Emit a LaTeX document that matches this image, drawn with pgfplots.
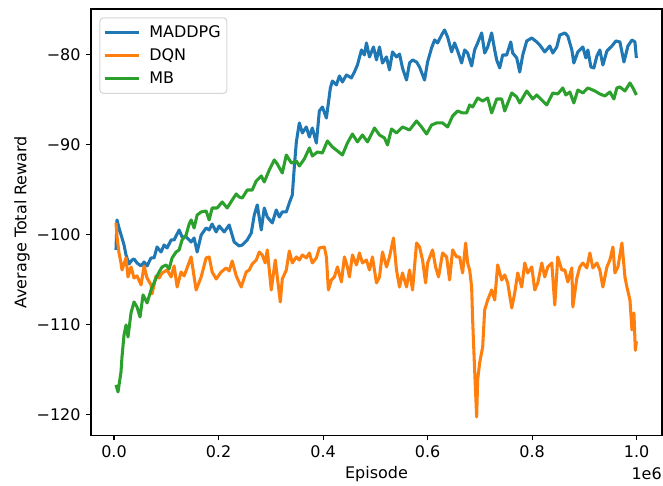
\documentclass[border=0pt]{standalone}
\usepackage{fontspec}
\setmainfont{DejaVu Sans}
\usepackage{pgfplots}
\pgfplotsset{compat=1.18}
\definecolor{mplblue}{HTML}{1F77B4}
\definecolor{mplorange}{HTML}{FF7F0E}
\definecolor{mplgreen}{HTML}{2CA02C}
\definecolor{legframe}{HTML}{D6D6D6}

\begin{document}
\fontsize{11.5}{13.8}\selectfont
\begin{tikzpicture}
\begin{axis}[
  name=main,
  scale only axis,
  width=411.12pt, height=307.08pt,
  xmin=-0.044, xmax=1.0485, ymin=-122.36, ymax=-74.97,
  xtick={0,0.2,0.4,0.6,0.8,1.0},
  xticklabels={0.0,0.2,0.4,0.6,0.8,1.0},
  ytick={-120,-110,-100,-90,-80},
  yticklabels={−120,−110,−100,−90,−80},
  tick pos=left, tick align=outside,
  major tick length=3.5pt,
  tick style={black, line width=0.8pt},
  axis line style={line width=0.8pt},
  ticklabel style={font=\fontsize{11.5}{13.8}\selectfont},
  xlabel={Episode}, ylabel={Average Total Reward},
  xlabel style={at={(axis description cs:0.5,0)}, anchor=center, yshift=-27.5pt, font=\fontsize{11.5}{13.8}\selectfont},
  ylabel style={at={([xshift=-49.7pt]axis description cs:0,0.5)}, anchor=center, font=\fontsize{11.5}{13.8}\selectfont},
  legend cell align=left,
  legend image code/.code={\draw[#1, line width=2pt] (0pt,0pt) -- (24.5pt,0pt);},
  legend style={at={(axis description cs:0,1)}, anchor=north west, xshift=6pt, yshift=-6pt,
    draw=legframe, line width=0.8pt, rounded corners=2.5pt, fill=white,
    font=\fontsize{11.5}{13.8}\selectfont, inner xsep=2.5pt, inner ysep=3.4pt, row sep=2.3pt,
    nodes={inner sep=2pt, text height=8.6pt, text depth=1.7pt},
    /tikz/every odd column/.append style={column sep=4.6pt}},
  every axis plot/.append style={line width=2.2pt, line join=round, mark=none},
]
% MADDPG
\addplot[color=mplblue] coordinates {
(0.0038,-101.74) (0.0058,-98.41) (0.0096,-99.30) (0.0153,-100.41) (0.0192,-101.19)
(0.0230,-102.30) (0.0288,-103.30) (0.0345,-102.86) (0.0383,-102.74) (0.0441,-103.19)
(0.0518,-103.52) (0.0575,-103.08) (0.0633,-103.52) (0.0709,-102.63) (0.0767,-102.63)
(0.0824,-101.41) (0.0901,-101.97) (0.0958,-101.19) (0.1016,-101.52) (0.1093,-100.63)
(0.1150,-100.63) (0.1246,-99.52) (0.1303,-100.30) (0.1380,-100.30) (0.1438,-100.63)
(0.1476,-100.86) (0.1533,-100.41) (0.1591,-101.97) (0.1668,-100.08) (0.1763,-99.30)
(0.1821,-99.52) (0.1878,-98.86) (0.1955,-99.74) (0.2013,-99.08) (0.2109,-99.74)
(0.2204,-98.97) (0.2300,-100.86) (0.2396,-101.30) (0.2454,-101.19) (0.2549,-100.63)
(0.2626,-99.86) (0.2684,-97.86) (0.2741,-96.74) (0.2818,-99.52) (0.2875,-97.08)
(0.2933,-98.08) (0.3029,-98.74) (0.3105,-97.30) (0.3163,-98.08) (0.3220,-97.52)
(0.3297,-97.52) (0.3354,-96.52) (0.3412,-95.63) (0.3450,-92.52) (0.3489,-89.74)
(0.3546,-87.63) (0.3604,-88.74) (0.3680,-88.08) (0.3738,-89.19) (0.3795,-88.19)
(0.3872,-89.86) (0.3929,-86.30) (0.3987,-85.86) (0.4064,-87.08) (0.4140,-83.74)
(0.4179,-82.97) (0.4255,-83.41) (0.4313,-82.41) (0.4370,-83.08) (0.4447,-82.30)
(0.4543,-82.63) (0.4600,-81.97) (0.4658,-81.19) (0.4735,-79.52) (0.4792,-80.08)
(0.4830,-78.74) (0.4888,-80.30) (0.4965,-79.19) (0.5022,-80.63) (0.5080,-79.19)
(0.5137,-80.97) (0.5214,-80.30) (0.5271,-81.74) (0.5329,-79.74) (0.5405,-80.30)
(0.5463,-79.97) (0.5520,-81.52) (0.5597,-82.86) (0.5655,-80.97) (0.5712,-80.63)
(0.5789,-80.86) (0.5846,-81.41) (0.5942,-82.86) (0.6000,-80.86) (0.6076,-79.30)
(0.6134,-78.41) (0.6191,-78.74) (0.6268,-77.86) (0.6325,-77.30) (0.6383,-78.08)
(0.6460,-79.74) (0.6517,-78.74) (0.6575,-79.63) (0.6651,-80.97) (0.6709,-79.52)
(0.6766,-79.86) (0.6843,-81.30) (0.6900,-79.52) (0.6958,-78.74) (0.7035,-77.63)
(0.7092,-79.86) (0.7150,-79.19) (0.7226,-77.63) (0.7284,-79.52) (0.7322,-80.63)
(0.7380,-81.52) (0.7437,-80.08) (0.7514,-80.08) (0.7591,-78.63) (0.7629,-79.86)
(0.7706,-80.41) (0.7763,-81.97) (0.7821,-80.08) (0.7897,-78.52) (0.7993,-78.19)
(0.8089,-78.63) (0.8146,-78.97) (0.8242,-79.74) (0.8338,-79.08) (0.8396,-79.86)
(0.8472,-79.19) (0.8530,-77.86) (0.8626,-77.63) (0.8683,-77.97) (0.8760,-79.52)
(0.8798,-80.97) (0.8875,-79.74) (0.8971,-79.19) (0.9028,-80.41) (0.9067,-79.52)
(0.9124,-81.41) (0.9182,-81.52) (0.9239,-80.19) (0.9296,-79.52) (0.9354,-81.19)
(0.9431,-79.63) (0.9527,-79.08) (0.9603,-78.52) (0.9680,-78.63) (0.9757,-80.86)
(0.9833,-79.08) (0.9910,-78.41) (0.9967,-78.63) (0.9995,-80.41)
};
\addlegendentry{MADDPG}
% DQN
\addplot[color=mplorange] coordinates {
(0.0038,-98.74) (0.0058,-100.30) (0.0096,-102.08) (0.0134,-103.19) (0.0153,-103.97)
(0.0230,-102.63) (0.0268,-104.74) (0.0326,-103.63) (0.0383,-104.86) (0.0441,-104.63)
(0.0518,-105.63) (0.0575,-103.52) (0.0633,-104.86) (0.0709,-105.63) (0.0728,-106.63)
(0.0805,-104.63) (0.0863,-104.86) (0.0920,-104.30) (0.1016,-103.97) (0.1093,-104.74)
(0.1150,-103.52) (0.1208,-105.86) (0.1284,-104.19) (0.1342,-104.63) (0.1399,-103.74)
(0.1476,-102.52) (0.1533,-104.74) (0.1572,-106.19) (0.1668,-104.74) (0.1763,-102.63)
(0.1821,-102.52) (0.1878,-104.19) (0.1955,-104.97) (0.2051,-104.19) (0.2147,-103.74)
(0.2204,-104.08) (0.2262,-102.97) (0.2339,-104.63) (0.2434,-105.86) (0.2530,-104.19)
(0.2588,-103.97) (0.2645,-103.30) (0.2722,-102.86) (0.2779,-101.97) (0.2837,-102.30)
(0.2894,-103.19) (0.2933,-101.74) (0.3009,-106.19) (0.3086,-102.86) (0.3124,-104.74)
(0.3182,-107.52) (0.3220,-104.97) (0.3297,-103.97) (0.3354,-101.86) (0.3412,-103.19)
(0.3489,-102.52) (0.3546,-102.86) (0.3604,-102.30) (0.3680,-102.63) (0.3738,-102.08)
(0.3795,-103.19) (0.3872,-102.63) (0.3929,-101.52) (0.4025,-101.41) (0.4064,-102.52)
(0.4102,-106.19) (0.4160,-105.08) (0.4217,-104.74) (0.4275,-103.63) (0.4351,-105.30)
(0.4409,-102.52) (0.4466,-103.63) (0.4505,-104.74) (0.4562,-102.30) (0.4639,-103.41)
(0.4696,-102.08) (0.4754,-103.19) (0.4830,-102.86) (0.4888,-103.97) (0.4945,-102.52)
(0.5022,-105.41) (0.5080,-104.74) (0.5137,-101.97) (0.5214,-103.63) (0.5271,-102.52)
(0.5348,-100.41) (0.5405,-103.97) (0.5463,-105.86) (0.5520,-104.30) (0.5597,-105.86)
(0.5655,-103.97) (0.5712,-106.19) (0.5789,-100.97) (0.5846,-101.41) (0.5904,-102.86)
(0.5962,-105.41) (0.6000,-103.19) (0.6095,-101.74) (0.6153,-103.63) (0.6210,-104.74)
(0.6287,-102.08) (0.6364,-102.52) (0.6421,-105.08) (0.6479,-101.74) (0.6556,-102.52)
(0.6613,-102.52) (0.6670,-104.30) (0.6728,-100.97) (0.6766,-103.19) (0.6805,-103.97)
(0.6843,-105.86) (0.6862,-109.52) (0.6900,-115.08) (0.6939,-120.30) (0.6958,-116.19)
(0.6996,-114.30) (0.7054,-112.52) (0.7092,-108.41) (0.7150,-107.30) (0.7226,-106.19)
(0.7284,-107.30) (0.7341,-103.41) (0.7418,-105.08) (0.7476,-104.52) (0.7533,-105.41)
(0.7610,-108.19) (0.7667,-106.52) (0.7725,-104.30) (0.7801,-105.86) (0.7859,-103.19)
(0.7916,-104.30) (0.7993,-103.63) (0.8051,-106.19) (0.8108,-105.41) (0.8185,-103.19)
(0.8242,-104.74) (0.8300,-103.63) (0.8376,-103.19) (0.8434,-107.86) (0.8491,-102.52)
(0.8568,-103.97) (0.8626,-103.97) (0.8683,-105.30) (0.8760,-103.74) (0.8779,-108.08)
(0.8856,-104.86) (0.8913,-103.63) (0.8971,-103.19) (0.9047,-103.74) (0.9105,-102.08)
(0.9162,-103.74) (0.9239,-103.19) (0.9296,-103.97) (0.9354,-105.86) (0.9431,-103.63)
(0.9488,-102.86) (0.9546,-101.41) (0.9584,-104.30) (0.9642,-103.63) (0.9718,-100.97)
(0.9776,-104.74) (0.9814,-105.86) (0.9872,-107.30) (0.9910,-110.63) (0.9948,-108.74)
(0.9975,-112.90) (0.9995,-111.90)
};
\addlegendentry{DQN}
% MB
\addplot[color=mplgreen] coordinates {
(0.0038,-116.74) (0.0077,-117.52) (0.0134,-115.30) (0.0153,-113.63) (0.0192,-111.19)
(0.0230,-110.08) (0.0268,-111.41) (0.0326,-108.74) (0.0383,-107.52) (0.0441,-108.08)
(0.0498,-109.19) (0.0556,-106.74) (0.0633,-107.63) (0.0709,-106.19) (0.0805,-104.86)
(0.0863,-104.19) (0.0920,-103.63) (0.0997,-103.41) (0.1054,-103.86) (0.1112,-102.63)
(0.1188,-101.97) (0.1246,-101.74) (0.1303,-100.63) (0.1380,-100.08) (0.1438,-98.86)
(0.1476,-98.41) (0.1533,-99.30) (0.1591,-97.86) (0.1668,-97.52) (0.1763,-97.41)
(0.1821,-98.41) (0.1878,-97.08) (0.1974,-97.08) (0.2070,-96.41) (0.2166,-97.08)
(0.2262,-96.19) (0.2339,-95.52) (0.2396,-95.86) (0.2454,-95.97) (0.2549,-95.08)
(0.2645,-95.08) (0.2722,-94.08) (0.2818,-93.52) (0.2875,-94.19) (0.2971,-92.86)
(0.3067,-91.74) (0.3124,-92.19) (0.3220,-93.19) (0.3297,-91.19) (0.3393,-92.08)
(0.3489,-91.86) (0.3546,-92.41) (0.3642,-91.63) (0.3738,-90.41) (0.3795,-91.30)
(0.3891,-90.86) (0.3987,-90.97) (0.4083,-89.63) (0.4179,-90.30) (0.4275,-90.74)
(0.4370,-91.19) (0.4466,-89.86) (0.4562,-88.86) (0.4658,-89.74) (0.4754,-88.97)
(0.4850,-89.74) (0.4984,-88.19) (0.5080,-88.97) (0.5175,-89.30) (0.5233,-90.08)
(0.5310,-88.30) (0.5405,-88.74) (0.5520,-88.08) (0.5655,-88.41) (0.5789,-87.41)
(0.5885,-88.08) (0.5981,-88.86) (0.6076,-87.86) (0.6172,-87.63) (0.6287,-87.63)
(0.6383,-88.08) (0.6479,-86.86) (0.6575,-86.30) (0.6670,-86.52) (0.6747,-86.52)
(0.6805,-85.63) (0.6862,-85.86) (0.6958,-84.86) (0.7054,-85.19) (0.7150,-84.86)
(0.7226,-86.52) (0.7322,-84.97) (0.7418,-84.97) (0.7476,-86.30) (0.7610,-84.30)
(0.7706,-84.74) (0.7763,-85.41) (0.7897,-84.08) (0.8012,-84.97) (0.8089,-84.52)
(0.8185,-85.08) (0.8281,-85.63) (0.8396,-84.30) (0.8491,-84.41) (0.8587,-83.74)
(0.8645,-84.52) (0.8722,-84.19) (0.8798,-85.41) (0.8875,-83.97) (0.8971,-84.30)
(0.9067,-83.74) (0.9201,-84.08) (0.9296,-84.41) (0.9392,-84.63) (0.9488,-84.19)
(0.9565,-84.97) (0.9622,-83.74) (0.9680,-83.63) (0.9776,-84.08) (0.9872,-83.19)
(0.9929,-83.74) (0.9995,-84.52)
};
\addlegendentry{MB}
\end{axis}
\node[anchor=east, inner sep=0pt] at ([yshift=-27.5pt]main.south east) {1e6};
\pgfresetboundingbox
\path[use as bounding box] (main.south west) ++(-65.52pt,-35.64pt) rectangle ++(477.36pt,349.2pt);
\end{tikzpicture}
\end{document}
